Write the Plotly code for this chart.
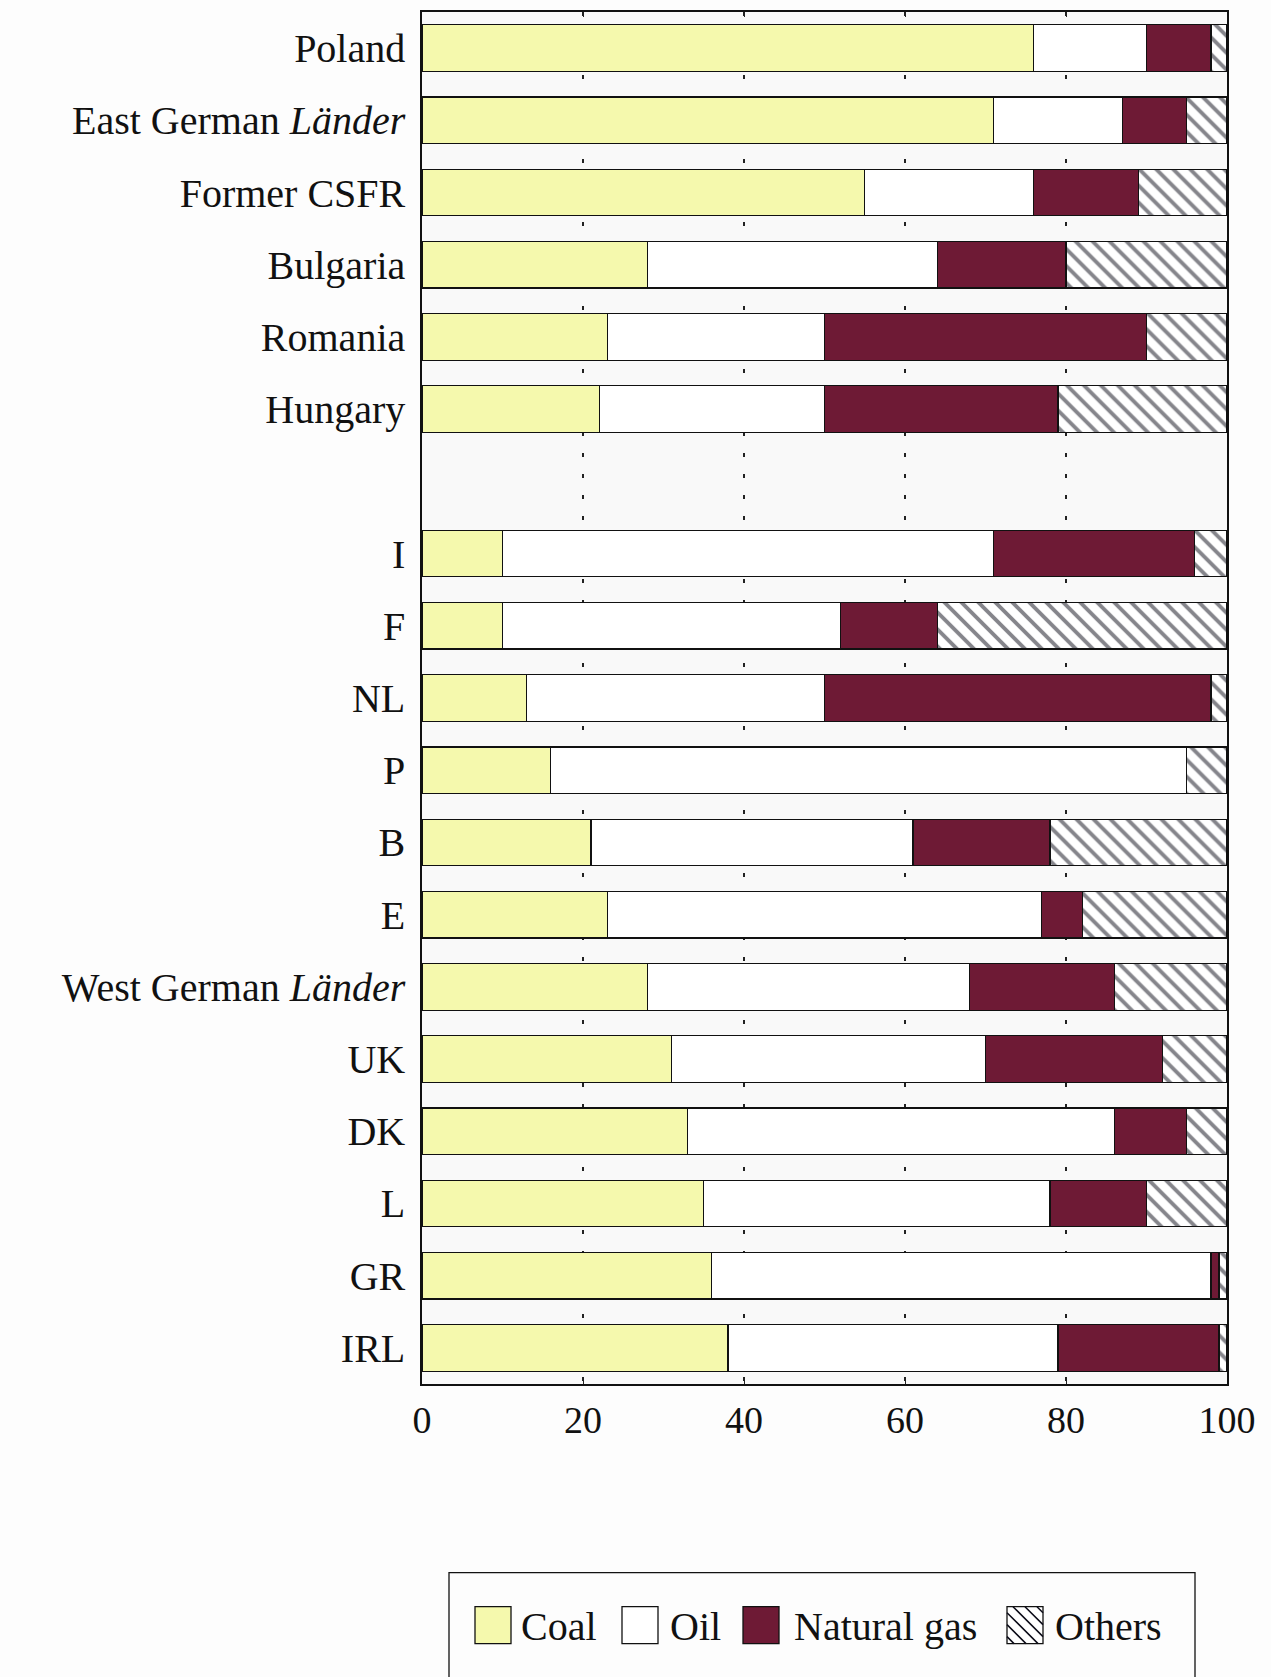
import plotly.graph_objects as go

# Share of primary energy supply by fuel (%), eastern countries then EC members
countries = ["Poland", "East German <i>Länder</i>", "Former CSFR", "Bulgaria", "Romania", "Hungary",
             "I", "F", "NL", "P", "B", "E", "West German <i>Länder</i>", "UK", "DK", "L", "GR", "IRL"]
coal = [76, 71, 55, 28, 23, 22, 10, 10, 13, 16, 21, 23, 28, 31, 33, 35, 36, 38]
oil = [14, 16, 21, 36, 27, 28, 61, 42, 37, 79, 40, 54, 40, 39, 53, 43, 62, 41]
natural_gas = [8, 8, 13, 16, 40, 29, 25, 12, 48, 0, 17, 5, 18, 22, 9, 12, 1, 20]
others = [2, 5, 11, 20, 10, 21, 4, 36, 2, 5, 22, 18, 14, 8, 5, 10, 1, 1]
x_ticks = [0, 20, 40, 60, 80, 100]

N_EAST = 6  # one blank row separates the two country groups
rows = [i if i < N_EAST else i + 1 for i in range(len(countries))]

COAL_C = "#f5f9ad"
OIL_C = "#ffffff"
GAS_C = "#6e1a35"
EDGE = "#111111"
HATCH = "#0c0c18"
FONT = "Liberation Serif, Times New Roman, serif"

W, H = 1271, 1677
M_L, M_R, M_T, M_B = 422, 44, 10, 293
PW, PH = W - M_L - M_R, H - M_T - M_B

fig = go.Figure()
line = dict(color=EDGE, width=1.2)
fig.add_bar(y=rows, x=coal, orientation="h", name="Coal",
            marker=dict(color=COAL_C, line=line))
fig.add_bar(y=rows, x=oil, orientation="h", name="Oil",
            marker=dict(color=OIL_C, line=line))
fig.add_bar(y=rows, x=natural_gas, orientation="h", name="Natural gas",
            marker=dict(color=GAS_C, line=line))
fig.add_bar(y=rows, x=others, orientation="h", name="Others",
            marker=dict(color="white", line=line,
                        pattern=dict(shape="\\", size=12, solidity=0.32,
                                     fgcolor=HATCH, bgcolor="white")))

fig.update_layout(
    width=W, height=H,
    margin=dict(l=M_L, r=M_R, t=M_T, b=M_B, pad=0),
    barmode="stack", bargap=0.355,
    showlegend=False,
    paper_bgcolor="#fdfdfd", plot_bgcolor="#f9f9f9",
    font=dict(family=FONT, size=38, color="#111111"),
)
fig.update_xaxes(
    range=[0, 100], tickvals=x_ticks, ticktext=[str(v) for v in x_ticks],
    ticks="inside", ticklen=5, tickcolor="#222", mirror="ticks",
    showline=True, linecolor=EDGE, linewidth=1.5,
    showgrid=True, gridcolor="#222222", gridwidth=1.5, griddash="4px,17px",
    zeroline=False, ticklabelstandoff=2,
    tickfont=dict(family=FONT, size=38),
)
fig.update_yaxes(
    range=[len(countries) + 0.5, -0.5],
    tickvals=rows, ticktext=countries, ticks="",
    showline=True, linecolor=EDGE, linewidth=1.5, mirror=True,
    showgrid=False, zeroline=False, ticklabelstandoff=7,
    tickfont=dict(family=FONT, size=40),
)


# Legend box drawn in pixel units below the plot
def px_x(px):
    return (px - M_L) / PW


def px_y(py):
    return (H - M_B - py) / PH


shapes = [dict(type="rect", xref="paper", yref="paper",
               x0=px_x(449), x1=px_x(1195), y0=px_y(1573), y1=px_y(1720),
               line=dict(color=EDGE, width=1.3), fillcolor="rgba(0,0,0,0)")]

sym_y0, sym_y1 = 1607, 1644
legend_items = [("Coal", 475, 519, COAL_C), ("Oil", 622, 668, OIL_C),
                ("Natural gas", 743, 792, GAS_C), ("Others", 1007, 1053, "white")]
annotations = []
for name, sx, tx, col in legend_items:
    shapes.append(dict(type="rect", xref="paper", yref="paper",
                       x0=px_x(sx), x1=px_x(sx + 36), y0=px_y(sym_y1), y1=px_y(sym_y0),
                       line=dict(color=EDGE, width=1.3), fillcolor=col))
    annotations.append(dict(xref="paper", yref="paper", x=px_x(tx), y=px_y(1627),
                            text=name, showarrow=False, xanchor="left", yanchor="middle",
                            font=dict(family=FONT, size=40, color="#111111")))
    if name == "Others":
        # diagonal hatch inside the legend swatch
        x0, x1, y0, y1 = sx, sx + 36, sym_y0, sym_y1
        segs = []
        step = 12
        c = -(x1 - x0) + step / 2
        while c < (y1 - y0):
            # line: (y - y0) = (x - x0) + c
            xa = max(x0, x0 - c)
            xb = min(x1, x0 + (y1 - y0) - c)
            if xb > xa:
                ya = y0 + (xa - x0) + c
                yb = y0 + (xb - x0) + c
                segs.append(f"M{px_x(xa)},{px_y(ya)}L{px_x(xb)},{px_y(yb)}")
            c += step
        shapes.append(dict(type="path", xref="paper", yref="paper", path="".join(segs),
                           line=dict(color=HATCH, width=1.5)))

fig.update_layout(shapes=shapes, annotations=annotations)
fig.write_html("out.html")
